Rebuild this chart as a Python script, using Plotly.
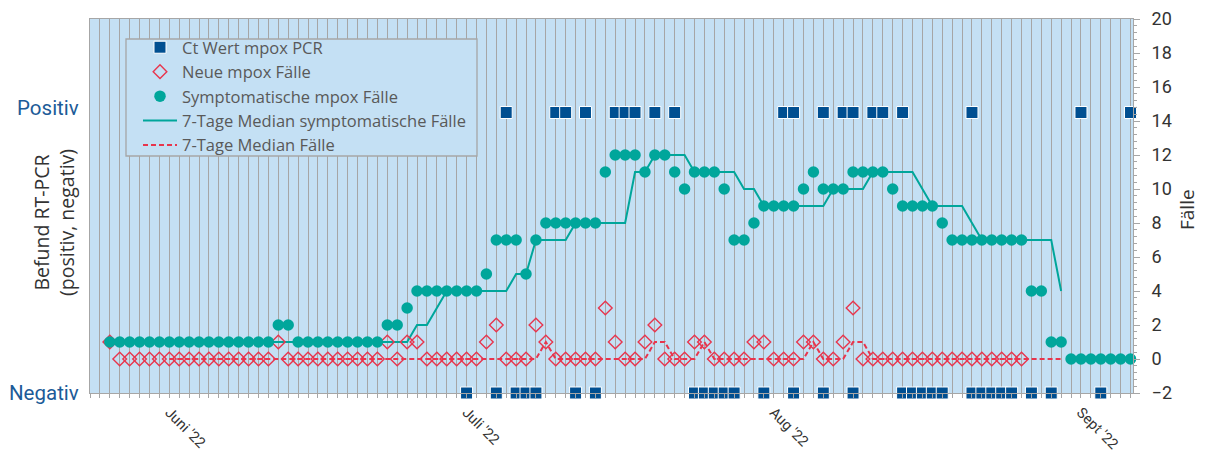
import pandas as pd
import plotly.graph_objects as go

# ---------------- data ----------------
# daily categories (first observed day .. last observed day)
dates = pd.date_range("2022-05-26", "2022-09-06", freq="D")

symptomatic = [
    1, 1, 1, 1, 1, 1, 1, 1, 1, 1, 1, 1, 1, 1, 1, 1, 1,
    2, 2,
    1, 1, 1, 1, 1, 1, 1, 1, 1,
    2, 2, 3,
    4, 4, 4, 4, 4, 4, 4,
    5, 7, 7, 7, 5, 7,
    8, 8, 8, 8, 8, 8,
    11, 12, 12, 12, 11, 12, 12, 11, 10,
    11, 11, 11, 10, 7, 7, 8,
    9, 9, 9, 9, 10, 11, 10, 10, 10,
    11, 11, 11, 11, 10,
    9, 9, 9, 9, 8,
    7, 7, 7, 7, 7, 7, 7, 7,
    4, 4, 1, 1,
    0, 0, 0, 0, 0, 0, 0,
]

new_cases = [
    1,
    0, 0, 0, 0, 0, 0, 0, 0, 0, 0, 0, 0, 0, 0, 0, 0,
    1,
    0, 0, 0, 0, 0, 0, 0, 0, 0, 0,
    1, 0, 1, 1,
    0, 0, 0, 0, 0, 0,
    1, 2,
    0, 0, 0,
    2, 1,
    0, 0, 0, 0, 0,
    3, 1, 0, 0, 1, 2,
    0, 0, 0,
    1, 1,
    0, 0, 0, 0,
    1, 1,
    0, 0, 0,
    1, 1, 0, 0, 1, 3,
    0, 0, 0, 0, 0, 0, 0, 0, 0, 0, 0, 0, 0, 0, 0, 0, 0,
]

# 7-day medians, first value on the 7th day
median_symptomatic = [
    1, 1, 1, 1, 1, 1, 1, 1, 1, 1, 1, 1, 1, 1, 1, 1, 1, 1, 1, 1, 1, 1, 1, 1, 1,
    2, 2, 3,
    4, 4, 4, 4, 4, 4, 4,
    5, 5,
    7, 7, 7, 7,
    8, 8, 8, 8, 8, 8,
    11, 11,
    12, 12, 12, 12,
    11, 11, 11, 11, 11,
    10, 10,
    9, 9, 9, 9, 9, 9, 9,
    10, 10, 10, 10,
    11, 11, 11, 11, 11,
    10,
    9, 9, 9, 9,
    8,
    7, 7, 7, 7, 7, 7, 7, 7,
    4,
]

median_new = [
    0, 0, 0, 0, 0, 0, 0, 0, 0, 0, 0, 0, 0, 0, 0, 0, 0, 0, 0,
    0, 0, 0, 0, 0, 0, 0, 0, 0, 0, 0, 0, 0, 0, 0, 0, 0, 0, 0,
    1,
    0, 0, 0, 0, 0, 0, 0, 0, 0, 0,
    1, 1,
    0, 0, 0,
    1,
    0, 0, 0, 0, 0, 0, 0, 0, 0, 0,
    1,
    0, 0, 0,
    1, 1,
    0, 0, 0, 0, 0, 0, 0, 0, 0, 0, 0, 0, 0, 0, 0, 0, 0, 0, 0, 0,
]

ct_positive_dates = [
    "2022-07-05", "2022-07-10", "2022-07-11", "2022-07-13", "2022-07-16",
    "2022-07-17", "2022-07-18", "2022-07-20", "2022-07-22", "2022-08-02",
    "2022-08-03", "2022-08-06", "2022-08-08", "2022-08-09", "2022-08-11",
    "2022-08-12", "2022-08-14", "2022-08-21", "2022-09-01", "2022-09-06",
]
ct_negative_dates = [
    "2022-07-01", "2022-07-04", "2022-07-06", "2022-07-07", "2022-07-08",
    "2022-07-12", "2022-07-14", "2022-07-24", "2022-07-25", "2022-07-26",
    "2022-07-27", "2022-07-28", "2022-07-31", "2022-08-03", "2022-08-06",
    "2022-08-09", "2022-08-14", "2022-08-15", "2022-08-16", "2022-08-17",
    "2022-08-18", "2022-08-21", "2022-08-22", "2022-08-23", "2022-08-24",
    "2022-08-25", "2022-08-27", "2022-08-29", "2022-09-03",
]

month_ticks = ["2022-06-01", "2022-07-01", "2022-08-01", "2022-09-01"]
month_labels = ["Juni '22", "Juli '22", "Aug '22", "Sept '22"]
pcr_labels = ["Negativ", "Positiv"]

# ---------------- styling ----------------
BG = "#c4e0f4"
GRID = "#a6a6a6"
TEAL = "#00a69b"
RED = "#e8354d"
NAVY = "#004f91"
LBLUE = "#1c5b98"
TXT = "#333333"
FONT = "Roboto, 'Noto Sans', sans-serif"
WIDEFONT = "'Open Sans', Roboto, sans-serif"

POS_LEVEL = 14.5
NEG_LEVEL = -2
PCR_TICK_POS = [NEG_LEVEL, 14.75]

new_dates = dates[: len(new_cases)]
median_dates = dates[6: 6 + len(median_symptomatic)]

ct_x = ct_positive_dates + ct_negative_dates
ct_y = [POS_LEVEL] * len(ct_positive_dates) + [NEG_LEVEL] * len(ct_negative_dates)

fig = go.Figure()

fig.add_trace(go.Scatter(
    x=median_dates, y=median_symptomatic, mode="lines",
    name="7-Tage Median symptomatische Fälle",
    line=dict(color=TEAL, width=2), yaxis="y2", legendrank=4,
))
fig.add_trace(go.Scatter(
    x=median_dates, y=median_new, mode="lines",
    name="7-Tage Median Fälle",
    line=dict(color=RED, width=2, dash="5px,3px"), yaxis="y2", legendrank=5,
))
fig.add_trace(go.Scatter(
    x=new_dates, y=new_cases, mode="markers", name="Neue mpox Fälle",
    marker=dict(symbol="diamond-open", size=10.5, color=RED, line=dict(width=1.4, color=RED)),
    yaxis="y2", legendrank=2, cliponaxis=False,
))
fig.add_trace(go.Scatter(
    x=dates, y=symptomatic, mode="markers", name="Symptomatische mpox Fälle",
    marker=dict(symbol="circle", size=11.5, color=TEAL, line=dict(width=0)),
    yaxis="y2", legendrank=3, cliponaxis=False,
))
fig.add_trace(go.Scatter(
    x=ct_x, y=ct_y, mode="markers", name="Ct Wert mpox PCR",
    marker=dict(symbol="square", size=12, color=NAVY, line=dict(color="white", width=1)),
    yaxis="y", legendrank=1, cliponaxis=False,
))

# plot area geometry in px
L, R, T, B = 90, 72, 19, 59
W, H = 1205, 452
pw, ph = W - L - R, H - T - B


def px_x(v):
    return (v - L) / pw


def px_y(v):
    return (H - B - v) / ph


fig.update_layout(
    width=W, height=H,
    margin=dict(l=L, r=R, t=T, b=B, autoexpand=False),
    paper_bgcolor="white", plot_bgcolor=BG,
    font=dict(family=FONT, color=TXT),
    showlegend=True,
    xaxis=dict(
        type="date", automargin=False,
        range=["2022-05-24", "2022-09-06 06:00"],
        tickmode="array", tickvals=month_ticks, ticktext=month_labels,
        tickangle=45, tickfont=dict(size=14.5, color=TXT),
        showgrid=True, gridcolor=GRID, gridwidth=1.3,
        ticks="outside", ticklen=4, tickcolor=GRID, tickwidth=1,
        showline=True, linecolor=GRID, linewidth=1.3, mirror=True,
        zeroline=False,
        minor=dict(dtick=86400000, tick0="2022-05-25", showgrid=True,
                   gridcolor=GRID, gridwidth=1.3, ticks="outside",
                   ticklen=4, tickcolor=GRID),
    ),
    yaxis=dict(
        automargin=False,
        range=[-2, 20], tickmode="array", tickvals=PCR_TICK_POS,
        ticktext=pcr_labels, tickfont=dict(size=20.5, color=LBLUE),
        ticks="", showgrid=False, zeroline=False,
        showline=True, linecolor=GRID, linewidth=1.3, mirror=True,
        ticklabelstandoff=6,
    ),
    yaxis2=dict(
        automargin=False,
        range=[-2, 20], overlaying="y", side="right",
        tickmode="linear", tick0=0, dtick=2,
        ticks="outside", ticklen=6, tickcolor=GRID,
        minor=dict(dtick=0.4, tick0=-2, ticks="outside", ticklen=3, tickcolor=GRID),
        showgrid=False, zeroline=False, showline=False,
        tickfont=dict(size=18, color=TXT), ticklabelstandoff=8,
    ),
    legend=dict(
        x=px_x(138), y=px_y(30), xanchor="left", yanchor="top",
        bgcolor="rgba(0,0,0,0)", borderwidth=0,
        font=dict(size=16.5, color="#595959", family=WIDEFONT),
        itemwidth=34, tracegroupgap=0,
    ),
    shapes=[dict(
        type="rect", xref="paper", yref="paper", layer="above",
        x0=px_x(126), x1=px_x(477), y0=px_y(156), y1=px_y(39),
        fillcolor=BG, line=dict(color=GRID, width=1.3),
    )],
    annotations=[
        dict(text="Befund RT-PCR<br>(positiv, negativ)", xref="paper", yref="paper",
             x=px_x(54), y=px_y(223), textangle=-90, showarrow=False,
             font=dict(size=19.5, color=TXT, family=WIDEFONT),
             xanchor="center", yanchor="middle"),
        dict(text="Fälle", xref="paper", yref="paper",
             x=px_x(1187), y=px_y(210), textangle=-90, showarrow=False,
             font=dict(size=19, color=TXT, family=WIDEFONT),
             xanchor="center", yanchor="middle"),
    ],
)

fig.write_html("out.html", config={"displayModeBar": False},
               post_script="document.body.style.margin='0px';")
